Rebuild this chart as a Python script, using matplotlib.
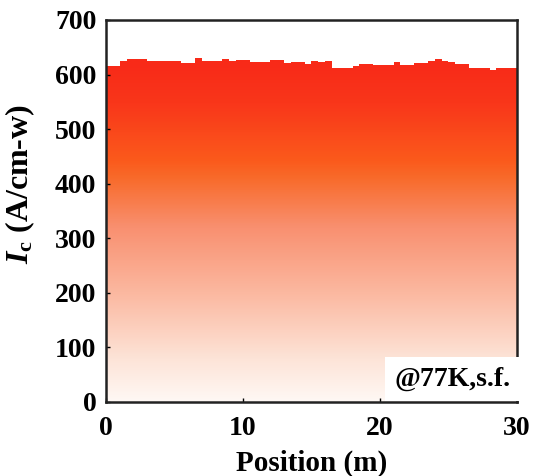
import numpy as np
import matplotlib.pyplot as plt
from matplotlib.colors import LinearSegmentedColormap

# Ic profile along the tape, one value every 0.5 m
position = np.arange(0, 30, 0.5)
ic = [616, 616, 624, 628, 628.5, 628.5, 625, 625, 625, 625,
      625, 622, 622, 631, 625, 625, 625, 628, 624, 627,
      627, 622.5, 622.5, 622.5, 627, 627, 620.5, 623.5, 623.5, 619,
      625.5, 622.5, 625, 611.5, 611.5, 611.5, 616, 619.5, 619.5, 617.5,
      618, 618, 622.5, 617.5, 617.5, 620.5, 622, 624, 628.5, 624,
      623.5, 619, 619, 612.5, 612.5, 612.5, 608, 611.5, 611.5, 611.5]

plt.rcParams['font.family'] = ['Liberation Serif', 'DejaVu Serif']
plt.rcParams['font.weight'] = 'bold'
plt.rcParams['mathtext.fontset'] = 'custom'
plt.rcParams['mathtext.rm'] = 'Liberation Serif:bold'
plt.rcParams['mathtext.it'] = 'Liberation Serif:italic:bold'

fig = plt.figure(figsize=(5.34, 4.76), dpi=100)
ax = fig.add_axes([0.1985, 0.1555, 0.7695, 0.8025])

# white -> salmon -> orange -> red, by Ic value
stops = [(0.0, '#fff8f4'), (77 / 620, '#fde4d8'), (200 / 620, '#fbb8a0'),
         (320 / 620, '#f99070'), (412 / 620, '#f86a2a'), (443 / 620, '#fb5a1c'),
         (550 / 620, '#f9361a'), (1.0, '#f82a18')]
cmap = LinearSegmentedColormap.from_list('ic_grad', stops)

x_edges = np.append(position, 30)
y_step = np.append(ic, ic[-1])
poly = ax.fill_between(x_edges, 0, y_step, step='post', color='none', lw=0)

grad = np.linspace(0, 700, 500).reshape(-1, 1)
img = ax.imshow(grad, cmap=cmap, origin='lower', extent=[0, 30, 0, 700],
                aspect='auto', vmin=0, vmax=620, interpolation='bilinear')
clip = poly.get_paths()[0]
img.set_clip_path(clip, transform=ax.transData)

ax.set_xlim(0, 30)
ax.set_ylim(0, 700)
ax.set_xticks([0, 10, 20, 30])
ax.set_yticks(range(0, 701, 100))
ax.tick_params(direction='in', length=3, width=1, labelsize=20)
ax.tick_params(axis='x', pad=10)
ax.tick_params(axis='y', pad=7)
for lab in ax.get_xticklabels() + ax.get_yticklabels():
    lab.set_fontweight('bold')
for sp in ax.spines.values():
    sp.set_linewidth(1.8)
    sp.set_color('#222222')

ax.set_xlabel('Position (m)', fontsize=21, fontweight='bold')
ax.set_ylabel(r'$I_\mathrm{c}$ (A/cm-w)', fontsize=23, fontweight='bold')
ax.xaxis.set_label_coords(0.5, -0.125)
ax.yaxis.set_label_coords(-0.168, 0.57)

ax.text(0.985, 0.06, '@77K,s.f.', transform=ax.transAxes, ha='right', va='center',
        fontsize=20, fontweight='bold', zorder=5,
        bbox=dict(boxstyle='square,pad=0.35', fc='white', ec='none'))

fig.savefig('out.png', dpi=100)
